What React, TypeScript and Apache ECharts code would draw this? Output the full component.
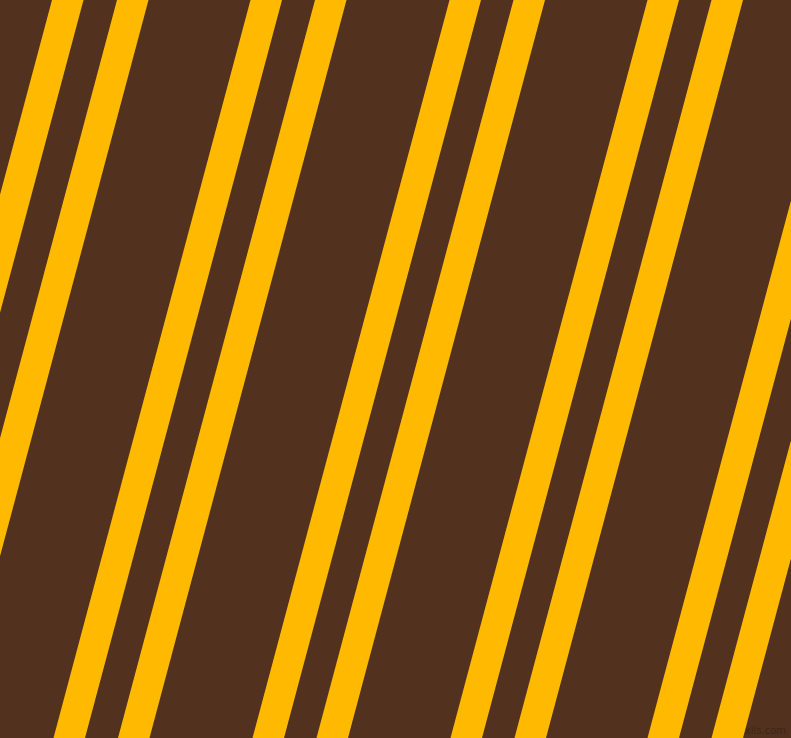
import React, { useEffect, useRef } from 'react';
import * as echarts from 'echarts';

// x where each stripe's left edge meets the top edge (y = 0)
const stripeTopX = [52, 117, 250.5, 315, 449.5, 513.5, 647.5, 711.5, 844.5, 908.5];
// horizontal drift of a stripe from top (y = 0) to bottom (y = 738)
const stripeDrift = 197;

const WIDTH = 791;
const HEIGHT = 738;
const STRIPE_W = 31.5;

const App: React.FC = () => {
  const chartRef = useRef<HTMLDivElement>(null);

  useEffect(() => {
    if (!chartRef.current) return;
    const chart = echarts.init(chartRef.current, undefined, { renderer: 'svg' });

    const slope = stripeDrift / HEIGHT;

    const option: echarts.EChartsOption = {
      animation: false,
      backgroundColor: '#52321e',
      grid: { left: 0, right: 0, top: 0, bottom: 0 },
      xAxis: { type: 'value', min: 0, max: WIDTH, show: false },
      yAxis: { type: 'value', min: 0, max: HEIGHT, inverse: true, show: false },
      graphic: [
        {
          type: 'text',
          right: 5,
          bottom: 3,
          style: {
            text: 'pixlis.com',
            fill: '#3d2515',
            font: '10px "DejaVu Sans"'
          }
        }
      ],
      series: [
        {
          type: 'custom',
          clip: true,
          data: stripeTopX.map((x) => [x]),
          renderItem: (params: any, api: any) => {
            const x0 = api.value(0) as number;
            const yA = -20;
            const yB = HEIGHT + 20;
            const xa = x0 - slope * yA;
            const xb = x0 - slope * yB;
            const pts = [
              api.coord([xa, yA]),
              api.coord([xa + STRIPE_W, yA]),
              api.coord([xb + STRIPE_W, yB]),
              api.coord([xb, yB])
            ];
            return {
              type: 'polygon',
              shape: { points: pts },
              style: { fill: '#ffba00' },
              silent: true
            };
          }
        }
      ]
    };

    // eslint-disable-next-line @typescript-eslint/no-explicit-any
    chart.setOption(option as any);

    return () => {
      chart.dispose();
    };
  }, []);

  return (
    <div
      ref={chartRef}
      style={{ position: 'fixed', left: 0, top: 0, width: WIDTH, height: HEIGHT }}
    />
  );
};

export default App;
